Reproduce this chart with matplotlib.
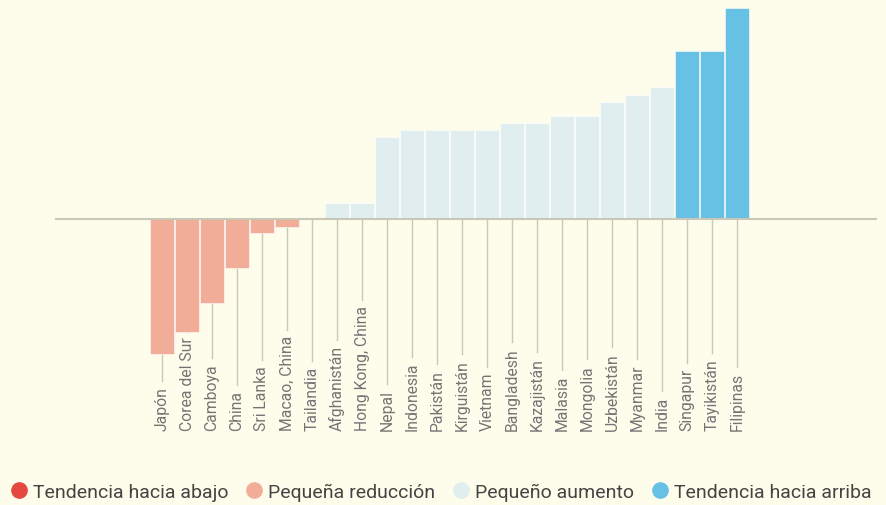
import matplotlib.pyplot as plt
from matplotlib.lines import Line2D
import matplotlib.transforms as mtransforms

# paises y cambio (unidades)
paises = ['Japón', 'Corea del Sur', 'Camboya', 'China', 'Sri Lanka', 'Macao, China',
          'Tailandia', 'Afghanistán', 'Hong Kong, China', 'Nepal', 'Indonesia',
          'Pakistán', 'Kirguistán', 'Vietnam', 'Bangladesh', 'Kazajistán', 'Malasia',
          'Mongolia', 'Uzbekistán', 'Myanmar', 'India', 'Singapur', 'Tayikistán',
          'Filipinas']
valores = [-135, -113, -84, -49, -14, -8, 0, 16, 16, 82, 89, 89, 89, 89, 96, 96,
           103, 103, 117, 124, 132, 168, 168, 211]
grupos = ['red', 'red', 'red', 'red', 'red', 'red', 'red', 'inc', 'inc', 'inc', 'inc',
          'inc', 'inc', 'inc', 'inc', 'inc', 'inc', 'inc', 'inc', 'inc', 'inc',
          'up', 'up', 'up']
leyenda = ['Tendencia hacia abajo', 'Pequeña reducción', 'Pequeño aumento',
           'Tendencia hacia arriba']

colores = {'down': '#E5483F', 'red': '#F1AD97', 'inc': '#E0EEF0', 'up': '#66C1E5'}
bg = '#FEFDEC'

W, H = 887, 506
fig = plt.figure(figsize=(W / 100, H / 100), dpi=100, facecolor=bg)
# axes from x=55..877 px, y=5..360 px (from top)
ax = fig.add_axes([55 / W, 1 - 360 / H, (877 - 55) / W, 355 / H])
ax.set_facecolor(bg)

x = list(range(len(paises)))
ax.bar(x, valores, width=0.93, color=[colores[g] for g in grupos],
       edgecolor='white', linewidth=0.4, zorder=2)
ax.axhline(0, color='#C9C7B8', linewidth=1.5, zorder=3)
ax.set_xlim(-4.28, 28.6)
ax.set_ylim(-140, 215)
ax.axis('off')

trans = mtransforms.blended_transform_factory(ax.transData, fig.transFigure)
textos = []
for i, p in enumerate(paises):
    t = fig.text(i, 1 - 431 / H, p, transform=trans, rotation=90, ha='center',
                 va='bottom', fontsize=11.3, color='#747474', family='Roboto')
    textos.append(t)

fig.canvas.draw()
r = fig.canvas.get_renderer()
inv = ax.transData.inverted()
for i, t in enumerate(textos):
    bb = t.get_window_extent(r)
    y_top = inv.transform((0, bb.y1 + 5))[1]
    y0 = min(valores[i], 0)
    ax.plot([i, i], [y0, y_top], color='#C9C7B8', linewidth=1, zorder=1,
            clip_on=False)

handles = [Line2D([], [], marker='o', linestyle='', markersize=11,
                  markerfacecolor=colores[k], markeredgecolor=colores[k])
           for k in ['down', 'red', 'inc', 'up']]
leg = fig.legend(handles, leyenda, loc='center', bbox_to_anchor=(0.497, 1 - 493 / H),
                 ncol=4, frameon=False, handletextpad=0.3, columnspacing=0.85,
                 handlelength=0.9, prop={'family': 'Roboto', 'size': 14})
for t in leg.get_texts():
    t.set_color('#444444')

fig.savefig('out.png', dpi=100, facecolor=bg)
